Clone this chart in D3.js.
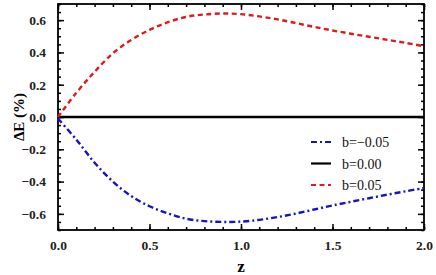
<!DOCTYPE html>
<html>
<head>
<meta charset="utf-8">
<script src="https://cdn.jsdelivr.net/npm/d3@7"></script>
<style>
  body { margin: 0; background: #fff; }
</style>
</head>
<body>
<div id="chart"></div>
<script>
var zValues = [0, 0.1, 0.2, 0.3, 0.4, 0.5, 0.6, 0.7, 0.8, 0.9, 1.0, 1.1, 1.2, 1.3, 1.4, 1.5, 1.6, 1.7, 1.8, 1.9, 2.0]
var bPos = [0, 0.15, 0.28, 0.395, 0.477, 0.54, 0.587, 0.62, 0.635, 0.641, 0.637, 0.623, 0.605, 0.582, 0.558, 0.536, 0.516, 0.497, 0.478, 0.459, 0.438]
var bNeg = [-0.01, -0.14, -0.283, -0.40, -0.49, -0.553, -0.597, -0.63, -0.645, -0.65, -0.648, -0.637, -0.62, -0.598, -0.573, -0.548, -0.525, -0.503, -0.481, -0.46, -0.44]
var bZero = [0, 0, 0, 0, 0, 0, 0, 0, 0, 0, 0, 0, 0, 0, 0, 0, 0, 0, 0, 0, 0]
var xTicks = [0, 0.5, 1.0, 1.5, 2.0]
var yTicks = [-0.6, -0.4, -0.2, 0, 0.2, 0.4, 0.6]

var series = [
  {label: 'b=\u22120.05', values: bNeg, color: '#1414c0', dash: '6,3,2,3'},
  {label: 'b=0.00', values: bZero, color: '#000', dash: null},
  {label: 'b=0.05', values: bPos, color: '#dc1c1c', dash: '5,3.5'}
]

var serif = 'Liberation Serif'
var width = 436, height = 275
var margin = {top: 4, right: 12, bottom: 45, left: 58}
var w = width - margin.left - margin.right
var h = height - margin.top - margin.bottom

var x = d3.scaleLinear().domain([0, 2]).range([0, w])
var y = d3.scaleLinear().domain([-0.7, 0.7]).range([h, 0])

var svg = d3.select('#chart').append('svg')
  .attr('width', width)
  .attr('height', height)
  .attr('font-family', serif)
var g = svg.append('g')
  .attr('transform', 'translate(' + margin.left + ',' + margin.top + ')')

// minor ticks on all sides
var xMinor = d3.range(0, 2.0001, 0.1)
var yMinor = d3.range(-0.7, 0.7001, 0.05)
function fmt(d){ return d3.format('.1f')(d).replace('-', '\u2212') }

g.append('g').attr('transform', 'translate(0,' + h + ')')
  .call(d3.axisBottom(x).tickValues(xMinor).tickSize(-3).tickFormat(''))
g.append('g')
  .call(d3.axisTop(x).tickValues(xMinor).tickSize(-3).tickFormat(''))
g.append('g')
  .call(d3.axisLeft(y).tickValues(yMinor).tickSize(-3).tickFormat(''))
g.append('g').attr('transform', 'translate(' + w + ',0)')
  .call(d3.axisRight(y).tickValues(yMinor).tickSize(-3).tickFormat(''))

g.append('g').attr('transform', 'translate(0,' + h + ')')
  .call(d3.axisBottom(x).tickValues(xTicks).tickSize(-6).tickPadding(10).tickFormat(fmt))
g.append('g')
  .call(d3.axisLeft(y).tickValues(yTicks).tickSize(-6).tickPadding(12).tickFormat(fmt))
g.append('g')
  .call(d3.axisTop(x).tickValues(xTicks).tickSize(-6).tickFormat(''))
g.append('g').attr('transform', 'translate(' + w + ',0)')
  .call(d3.axisRight(y).tickValues(yTicks).tickSize(-6).tickFormat(''))

g.selectAll('.domain').remove()
g.selectAll('.tick line').attr('stroke', '#000').attr('stroke-width', 1.5)
g.selectAll('.tick text')
  .attr('font-family', serif)
  .attr('font-size', 13.5).attr('font-weight', 'bold').attr('fill', '#222')

g.append('rect')
  .attr('width', w).attr('height', h)
  .attr('fill', 'none').attr('stroke', '#000').attr('stroke-width', 1.8)

var line = d3.line()
  .x(function(d, i){ return x(zValues[i]) })
  .y(function(d){ return y(d) })
  .curve(d3.curveCatmullRom)

series.forEach(function(s){
  g.append('path')
    .datum(s.values)
    .attr('d', line)
    .attr('fill', 'none')
    .attr('stroke', s.color)
    .attr('stroke-width', 2.4)
    .attr('stroke-dasharray', s.dash)
})

// legend
var legend = g.append('g').attr('transform', 'translate(253,138)')
series.forEach(function(s, i){
  var row = legend.append('g').attr('transform', 'translate(0,' + (i * 21.5) + ')')
  row.append('line')
    .attr('x1', 0).attr('x2', 20).attr('y1', 0).attr('y2', 0)
    .attr('stroke', s.color).attr('stroke-width', 2.2)
    .attr('stroke-dasharray', s.dash)
  row.append('text')
    .attr('x', 31).attr('y', 5)
    .attr('font-size', 14).attr('fill', '#111')
    .text(s.label)
})

svg.append('text')
  .attr('transform', 'translate(24,' + (margin.top + y(0)) + ') rotate(-90)')
  .attr('text-anchor', 'middle')
  .attr('font-size', 15).attr('font-weight', 'bold')
  .text('\u0394E (%)')

svg.append('text')
  .attr('x', margin.left + x(1)).attr('y', 272)
  .attr('text-anchor', 'middle')
  .attr('font-size', 17).attr('font-weight', 'bold')
  .text('z')
</script>
</body>
</html>
